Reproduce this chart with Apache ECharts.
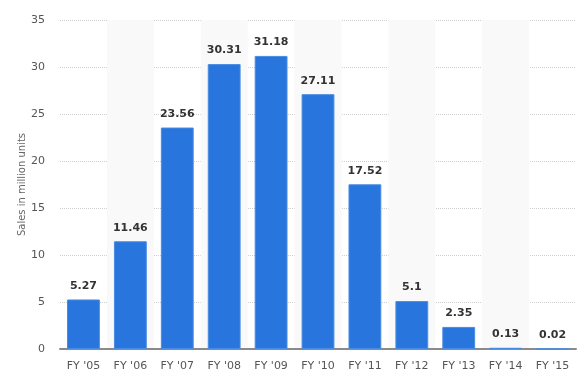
<!DOCTYPE html>
<html><head><meta charset="utf-8">
<script src="https://cdn.jsdelivr.net/npm/echarts@6/dist/echarts.min.js"></script>
<style>html,body{margin:0;padding:0;background:#fff}#c{width:579px;height:375px}</style>
</head><body><div id="c"></div>
<script>
const categories = ["FY '05","FY '06","FY '07","FY '08","FY '09","FY '10","FY '11","FY '12","FY '13","FY '14","FY '15"];
const sales = [5.27, 11.46, 23.56, 30.31, 31.18, 27.11, 17.52, 5.1, 2.35, 0.13, 0.02];
const yTicks = [0, 5, 10, 15, 20, 25, 30, 35];
const chart = echarts.init(document.getElementById('c'));
chart.setOption({
  animation: false,
  grid: {left: 60, right: 3, top: 20, bottom: 26},
  xAxis: {
    type: 'category', data: categories,
    axisTick: {show: false},
    axisLine: {lineStyle: {color: '#8a8a8a', width: 2}},
    axisLabel: {color: '#555', fontSize: 11, fontFamily: 'DejaVu Sans', margin: 12},
    splitArea: {show: true, areaStyle: {color: ['rgba(0,0,0,0)', '#f9f9f9']}}
  },
  yAxis: {
    type: 'value', min: yTicks[0], max: yTicks[yTicks.length-1], interval: 5,
    name: 'Sales in million units', nameLocation: 'middle', nameGap: 33,
    nameMoveOverlap: false,
    nameTextStyle: {color: '#666', fontSize: 10, fontFamily: 'DejaVu Sans'},
    axisLabel: {color: '#555', fontSize: 11, fontFamily: 'DejaVu Sans', margin: 15},
    axisLine: {show: false}, axisTick: {show: false},
    splitLine: {lineStyle: {color: '#cfcfcf', type: [1, 1]}}
  },
  series: [{
    type: 'bar', data: sales, barWidth: '70%',
    itemStyle: {color: '#2876dd', borderColor: '#4a8ce3', borderWidth: 1},
    label: {show: true, position: 'top', distance: 8, color: '#333', fontWeight: 'bold', fontSize: 11, fontFamily: 'DejaVu Sans'}
  }]
});
</script></body></html>
